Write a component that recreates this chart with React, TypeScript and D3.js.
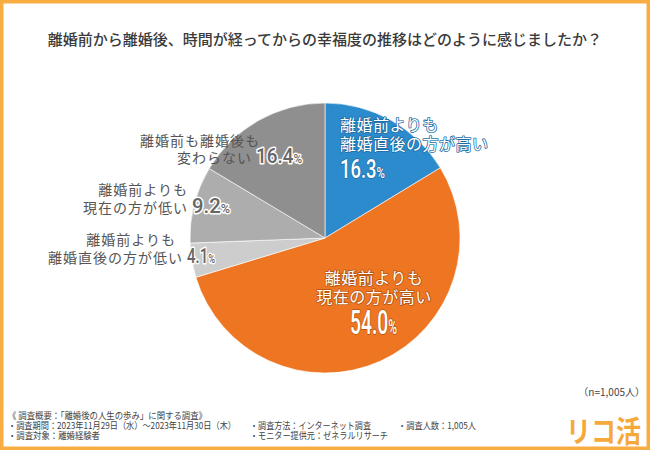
import * as d3 from 'd3';

// Survey answers, in drawing order (clockwise from 12 o'clock)
const categories = [
  '離婚前よりも離婚直後の方が高い',
  '離婚前よりも現在の方が高い',
  '離婚前よりも離婚直後の方が低い',
  '離婚前よりも現在の方が低い',
  '離婚前も離婚後も変わらない',
];
const shares = [16.3, 54.0, 4.1, 9.2, 16.4];
const labelLine1 = ['離婚前よりも', '離婚前よりも', '離婚前よりも', '離婚前よりも', '離婚前も離婚後も'];
const labelLine2 = ['離婚直後の方が高い', '現在の方が高い', '離婚直後の方が低い', '現在の方が低い', '変わらない'];
const colors = ['#2b8bcd', '#ee7623', '#cdcdcd', '#adadad', '#8f8f8f'];

const title = '離婚前から離婚後、時間が経ってからの幸福度の推移はどのように感じましたか？';
const sampleNote = '（n=1,005人）';
const footerCol1 = ['《 調査概要：「離婚後の人生の歩み」に関する調査》', '・調査期間：2023年11月29日（水）～2023年11月30日（木）', '・調査対象：離婚経験者'];
const footerCol2 = ['', '・調査方法：インターネット調査', '・モニター提供元：ゼネラルリサーチ'];
const footerCol3 = ['', '・調査人数：1,005人', ''];

const W = 650;
const H = 450;
const cx = 325;
const cy = 238;
const r = 135;

const jp = "'Noto Sans CJK JP', 'Noto Sans', sans-serif";
const num = "Roboto, 'Noto Sans', sans-serif";

const fmt = (v: number) => v.toFixed(1);

// footer text widths, so the lines fit like the reference's narrow font
const col1Len = [199, 228, 92];
const col2Len = [0, 121, 138];
const col3Len = [0, 78, 0];

const App = () => {
  const pie = d3.pie<number>().sort(null).value(d => d);
  const arc = d3.arc<d3.PieArcDatum<number>>().innerRadius(0).outerRadius(r);
  const arcs = pie(shares);

  const pct = (v: number, x: number, y: number, size: number, len: number, anchor = 'start', extra: any = {}) => (
    <text x={x} y={y} textAnchor={anchor} fontFamily={num} fontWeight={500} textLength={len}
      lengthAdjust="spacingAndGlyphs" {...extra}>
      <tspan fontSize={size}>{fmt(v)}</tspan>
      <tspan fontSize={size * 0.62}>%</tspan>
    </text>
  );

  // gray outside labels: [line1 end x, line1 baseline, line2 end x, line2 baseline, pct width]
  const grayPos: Record<number, [number, number, number, number, number]> = {
    2: [176, 245, 183, 263, 28],
    3: [188, 195, 188, 213, 38],
    4: [260, 146, 252, 163, 46],
  };

  const whiteOutline = { fill: '#666', stroke: '#fff', strokeWidth: 3, strokeLinejoin: 'round', style: { paintOrder: 'stroke' } };

  return (
    <svg width={W} height={H} style={{ position: 'absolute', left: 0, top: 0 }}>
      <rect x={0} y={0} width={W} height={H} fill="#fff" />
      <text x={W / 2} y={45} textAnchor="middle" fontFamily={jp} fontSize={15} fontWeight={500} fill="#3a3a3a">
        {title}
      </text>

      <g transform={`translate(${cx},${cy})`}>
        {arcs.map((a, i) => (
          <path key={categories[i]} d={arc(a) ?? ''} fill={colors[i]} stroke="#fff" strokeWidth={0.6} />
        ))}
      </g>

      {/* inside labels */}
      <g fontFamily={jp} fill="#fff" stroke="#1d6ea6" strokeWidth={1.6} style={{ paintOrder: 'stroke' }} strokeLinejoin="round">
        <text x={340} y={131} fontSize={16} letterSpacing={0.5}>{labelLine1[0]}</text>
        <text x={340} y={150} fontSize={16} letterSpacing={0.5}>{labelLine2[0]}</text>
        {pct(shares[0], 340, 178, 25, 45)}
      </g>
      <g fontFamily={jp} fill="#fff" stroke="#b4520e" strokeWidth={1.6} style={{ paintOrder: 'stroke' }} strokeLinejoin="round" textAnchor="middle">
        <text x={374} y={284} fontSize={16} letterSpacing={0.5}>{labelLine1[1]}</text>
        <text x={374} y={303} fontSize={16} letterSpacing={0.5}>{labelLine2[1]}</text>
        {pct(shares[1], 350, 334, 33, 47)}
      </g>

      {/* outside labels */}
      {[2, 3, 4].map(i => {
        const [x1, y1, x2, y2, w] = grayPos[i];
        return (
          <g key={categories[i]} fontFamily={jp}>
            <text x={x1} y={y1} textAnchor="end" fontSize={14} letterSpacing={1} fill="#555">{labelLine1[i]}</text>
            <text x={x2} y={y2} textAnchor="end" fontSize={14} letterSpacing={1} fill="#555">{labelLine2[i]}</text>
            {pct(shares[i], x2 + 4, y2, 21, w, 'start', whiteOutline)}
          </g>
        );
      })}

      <text x={645} y={396} textAnchor="end" fontFamily={jp} fontSize={10} fill="#444">{sampleNote}</text>

      <g fontFamily={jp} fontSize={9.5} fill="#444">
        {footerCol1.map((t, i) => <text key={'a' + i} x={8} y={419 + i * 10} textLength={col1Len[i]} lengthAdjust="spacingAndGlyphs">{t}</text>)}
        {footerCol2.map((t, i) => t && <text key={'b' + i} x={250} y={419 + i * 10} textLength={col2Len[i]} lengthAdjust="spacingAndGlyphs">{t}</text>)}
        {footerCol3.map((t, i) => t && <text key={'c' + i} x={398} y={419 + i * 10} textLength={col3Len[i]} lengthAdjust="spacingAndGlyphs">{t}</text>)}
      </g>

      <text x={641} y={443} textAnchor="end" fontFamily={jp} fontSize={25} fontWeight={700} fill="#f5a93a"
        transform="translate(0,-76) scale(1,1.17)">リコ活</text>

      <rect x={0} y={0} width={W} height={H} fill="none" stroke="#f7ad42" strokeWidth={7} />
    </svg>
  );
};

export default App;
